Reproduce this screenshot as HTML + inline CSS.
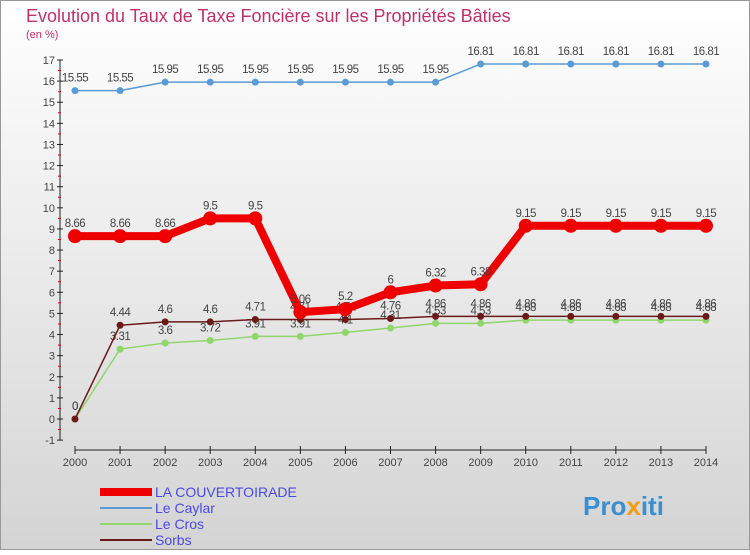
<!DOCTYPE html>
<html><head><meta charset="utf-8"><style>
body{margin:0;width:750px;height:550px;overflow:hidden;font-family:"Liberation Sans",sans-serif}
</style></head><body>
<svg width="750" height="550" xmlns="http://www.w3.org/2000/svg">
<defs><linearGradient id="bg" x1="0" y1="0" x2="0" y2="1"><stop offset="0" stop-color="#ffffff"/><stop offset="1" stop-color="#d4d4d4"/></linearGradient></defs>
<rect x="0.5" y="0.5" width="749" height="549" fill="url(#bg)" stroke="#999"/>
<text x="26" y="22" font-size="18" fill="#c0306a">Evolution du Taux de Taxe Foncière sur les Propriétés Bâties</text>
<text x="26" y="38" font-size="11" fill="#c0306a">(en %)</text>
<g id="axes"></g><g id="series"></g><g id="legend"></g>
<text x="583" y="515" font-size="26" font-weight="bold" fill="#3a8fd0">Pro<tspan fill="#f39c12">x</tspan>iti</text>
</svg>
<script>
const years=[2000,2001,2002,2003,2004,2005,2006,2007,2008,2009,2010,2011,2012,2013,2014];
const yTicks=[-1,0,1,2,3,4,5,6,7,8,9,10,11,12,13,14,15,16,17];
const couvertoirade=[8.66,8.66,8.66,9.5,9.5,5.06,5.2,6,6.32,6.38,9.15,9.15,9.15,9.15,9.15];
const caylar=[15.55,15.55,15.95,15.95,15.95,15.95,15.95,15.95,15.95,16.81,16.81,16.81,16.81,16.81,16.81];
const cros=[0,3.31,3.6,3.72,3.91,3.91,4.1,4.31,4.53,4.53,4.68,4.68,4.68,4.68,4.68];
const sorbs=[0,4.44,4.6,4.6,4.71,4.71,4.71,4.76,4.86,4.86,4.86,4.86,4.86,4.86,4.86];
const NS="http://www.w3.org/2000/svg";
function X(i){return 75+i*(706-75)/(years.length-1);}
function Y(v){return 419-v*(419-60)/17;}
function mk(t,a,p){const e=document.createElementNS(NS,t);for(const k in a)e.setAttribute(k,a[k]);p.appendChild(e);return e;}
const ax=document.getElementById('axes');
let l=mk('line',{x1:60,y1:Y(17),x2:60,y2:Y(-1),stroke:'#222'},ax);


yTicks.forEach(v=>{
 mk('line',{x1:57,y1:Y(v),x2:63,y2:Y(v),stroke:'#222'},ax);
 if(v<17) mk('line',{x1:58,y1:Y(v+0.5),x2:61,y2:Y(v+0.5),stroke:'#e00'},ax);
 const t=mk('text',{x:55,y:Y(v)+4,'font-size':11,'text-anchor':'end',fill:'#444'},ax);t.textContent=v;
 
 
});
l=mk('line',{x1:X(0),y1:450,x2:X(years.length-1),y2:450,stroke:'#222'},ax);


years.forEach((y,i)=>{
 mk('line',{x1:X(i),y1:446,x2:X(i),y2:454,stroke:'#222'},ax);
 const t=mk('text',{x:X(i),y:466,'font-size':11,'text-anchor':'middle',fill:'#444'},ax);t.textContent=y;
 
 
});
const sg=document.getElementById('series');
function draw(vals,color,w,r,name){
 const g=mk('g',{},sg);
 
 
 mk('polyline',{points:vals.map((v,i)=>X(i)+','+Y(v)).join(' '),fill:'none',stroke:color,'stroke-width':w,'stroke-linejoin':'round'},g);
 vals.forEach((v,i)=>{
  const c=mk('circle',{cx:X(i),cy:Y(v),r:r,fill:color},g);
  
  
  const t=mk('text',{x:X(i),y:Y(v)-9,'font-size':11.5,'text-anchor':'middle',fill:'#444','letter-spacing':'-0.5'},g);t.textContent=v;
  
  
 });
}
draw(caylar,'#5b9bd5',1.5,3.5,'series-le-caylar');
draw(cros,'#8fd66b',1.5,3.5,'series-le-cros');
draw(sorbs,'#6b1a1a',1.5,3.5,'series-sorbs');
draw(couvertoirade,'#ee0000',8,7,'series-la-couvertoirade');
const lg=document.getElementById('legend');
[['LA COUVERTOIRADE','#ee0000',8],['Le Caylar','#5b9bd5',2],['Le Cros','#8fd66b',2],['Sorbs','#6b1a1a',2]].forEach((d,i)=>{
 const y=492+i*16;
 const g=mk('g',{},lg);
 
 
 mk('line',{x1:100,y1:y,x2:152,y2:y,stroke:d[1],'stroke-width':d[2]},g);
 const t=mk('text',{x:155,y:y+5,'font-size':14,fill:'#4a4ae0'},g);t.textContent=d[0];
});
</script>
</body></html>
